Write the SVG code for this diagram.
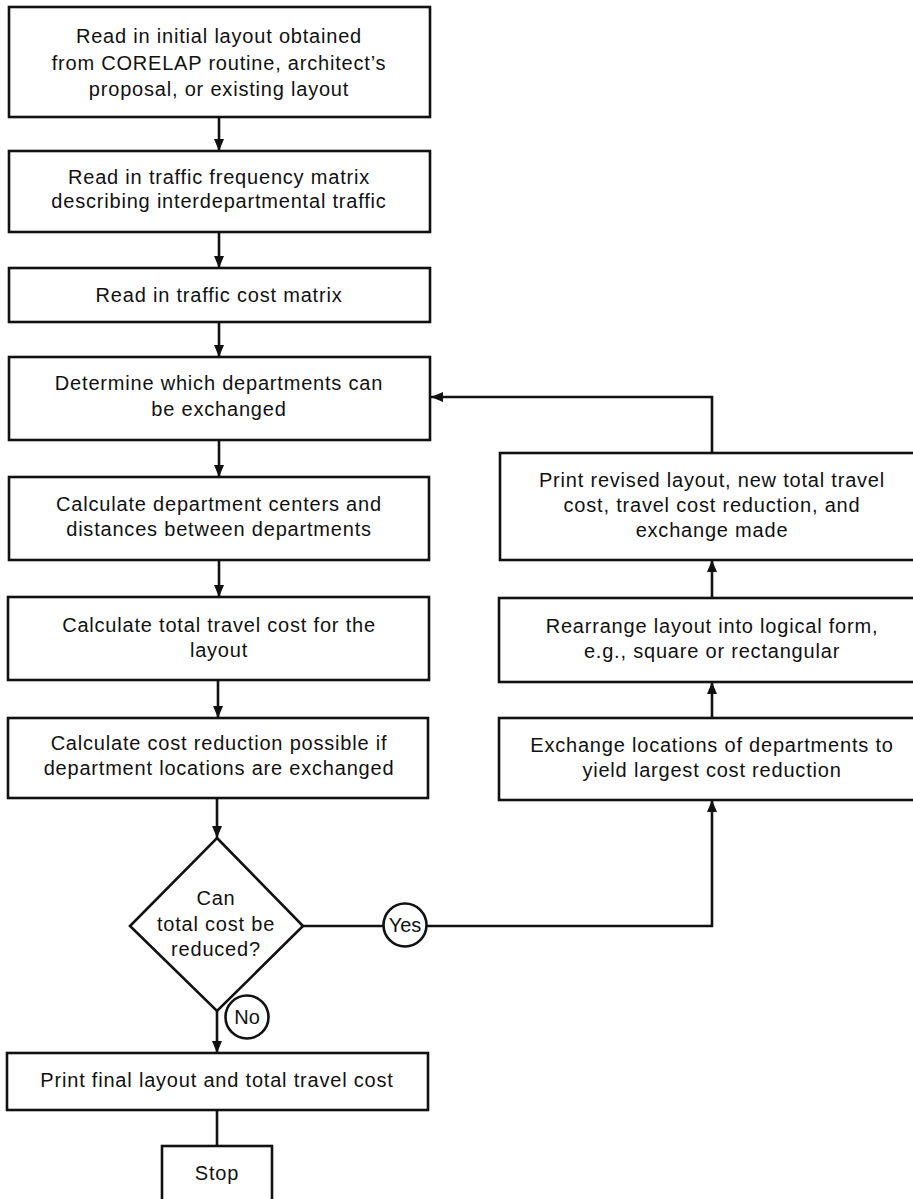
<svg xmlns="http://www.w3.org/2000/svg" width="913" height="1199" viewBox="0 0 913 1199">
<style>
.box{fill:#fff;stroke:#111;stroke-width:2.6}
.ln{fill:none;stroke:#111;stroke-width:2.6}
.t{font-family:"Liberation Sans",Arial,sans-serif;font-size:20px;fill:#111;text-anchor:middle;letter-spacing:0.8px}
.s{letter-spacing:0}
</style>
<defs>
<marker id="ah" viewBox="0 0 12 10" refX="12" refY="5" markerWidth="12" markerHeight="10" markerUnits="userSpaceOnUse" orient="auto">
<path d="M0,0 L12,5 L0,10 Z" fill="#111"/>
</marker>
</defs>
<rect width="913" height="1199" fill="#fff"/>
<g id="connectors">
<line class="ln" x1="219" y1="117" x2="219" y2="151" marker-end="url(#ah)"/>
<line class="ln" x1="219" y1="232" x2="219" y2="268" marker-end="url(#ah)"/>
<line class="ln" x1="219" y1="322" x2="219" y2="357" marker-end="url(#ah)"/>
<line class="ln" x1="219" y1="440" x2="219" y2="477" marker-end="url(#ah)"/>
<line class="ln" x1="219" y1="560" x2="219" y2="597" marker-end="url(#ah)"/>
<line class="ln" x1="218" y1="680" x2="218" y2="718" marker-end="url(#ah)"/>
<line class="ln" x1="217" y1="798" x2="217" y2="838" marker-end="url(#ah)"/>
<line class="ln" x1="217" y1="1011" x2="217" y2="1053" marker-end="url(#ah)"/>
<line class="ln" x1="217" y1="1110" x2="217" y2="1146"/>
<line class="ln" x1="303" y1="926" x2="383" y2="926"/>
<polyline class="ln" points="427,926 712,926 712,800" marker-end="url(#ah)"/>
<line class="ln" x1="712" y1="718" x2="712" y2="682" marker-end="url(#ah)"/>
<line class="ln" x1="712" y1="598" x2="712" y2="560" marker-end="url(#ah)"/>
<polyline class="ln" points="712,453 712,397 431,397" marker-end="url(#ah)"/>
</g>
<g id="n1">
<rect class="box" x="9" y="7" width="421" height="110"/>
<text class="t" x="219" y="43">Read in initial layout obtained</text>
<text class="t" x="219" y="70">from CORELAP routine, architect’s</text>
<text class="t" x="219" y="96">proposal, or existing layout</text>
</g>
<g id="n2">
<rect class="box" x="9" y="151" width="421" height="81"/>
<text class="t" x="219" y="184">Read in traffic frequency matrix</text>
<text class="t" x="219" y="208">describing interdepartmental traffic</text>
</g>
<g id="n3">
<rect class="box" x="9" y="268" width="421" height="54"/>
<text class="t" x="219" y="302">Read in traffic cost matrix</text>
</g>
<g id="n4">
<rect class="box" x="9" y="357" width="421" height="83"/>
<text class="t" x="219" y="390">Determine which departments can</text>
<text class="t" x="219" y="416">be exchanged</text>
</g>
<g id="n5">
<rect class="box" x="9" y="477" width="420" height="83"/>
<text class="t" x="219" y="511">Calculate department centers and</text>
<text class="t" x="219" y="536">distances between departments</text>
</g>
<g id="n6">
<rect class="box" x="8" y="597" width="421" height="83"/>
<text class="t" x="219" y="632">Calculate total travel cost for the</text>
<text class="t" x="219" y="657">layout</text>
</g>
<g id="n7">
<rect class="box" x="8" y="718" width="420" height="80"/>
<text class="t" x="219" y="750">Calculate cost reduction possible if</text>
<text class="t" x="219" y="775">department locations are exchanged</text>
</g>
<g id="decision">
<polygon class="box" points="217,838 303,926 217,1011 130,926"/>
<text class="t" x="216" y="905">Can</text>
<text class="t" x="216" y="931">total cost be</text>
<text class="t" x="216" y="956">reduced?</text>
</g>
<g id="yes">
<circle class="box" cx="405" cy="925" r="21.5"/>
<text class="t s" x="405" y="932">Yes</text>
</g>
<g id="no">
<circle class="box" cx="247" cy="1017" r="21.5"/>
<text class="t s" x="247" y="1024">No</text>
</g>
<g id="n8">
<rect class="box" x="7" y="1053" width="421" height="57"/>
<text class="t" x="217" y="1087">Print final layout and total travel cost</text>
</g>
<g id="stop">
<rect class="box" x="162" y="1146" width="110" height="70"/>
<text class="t" x="217" y="1180">Stop</text>
</g>
<g id="r1">
<rect class="box" x="500" y="453" width="430" height="107"/>
<text class="t" x="712" y="487">Print revised layout, new total travel</text>
<text class="t" x="712" y="512">cost, travel cost reduction, and</text>
<text class="t" x="712" y="537">exchange made</text>
</g>
<g id="r2">
<rect class="box" x="499" y="598" width="431" height="84"/>
<text class="t" x="712" y="633">Rearrange layout into logical form,</text>
<text class="t" x="712" y="658">e.g., square or rectangular</text>
</g>
<g id="r3">
<rect class="box" x="499" y="718" width="431" height="82"/>
<text class="t" x="712" y="752">Exchange locations of departments to</text>
<text class="t" x="712" y="777">yield largest cost reduction</text>
</g>
</svg>
